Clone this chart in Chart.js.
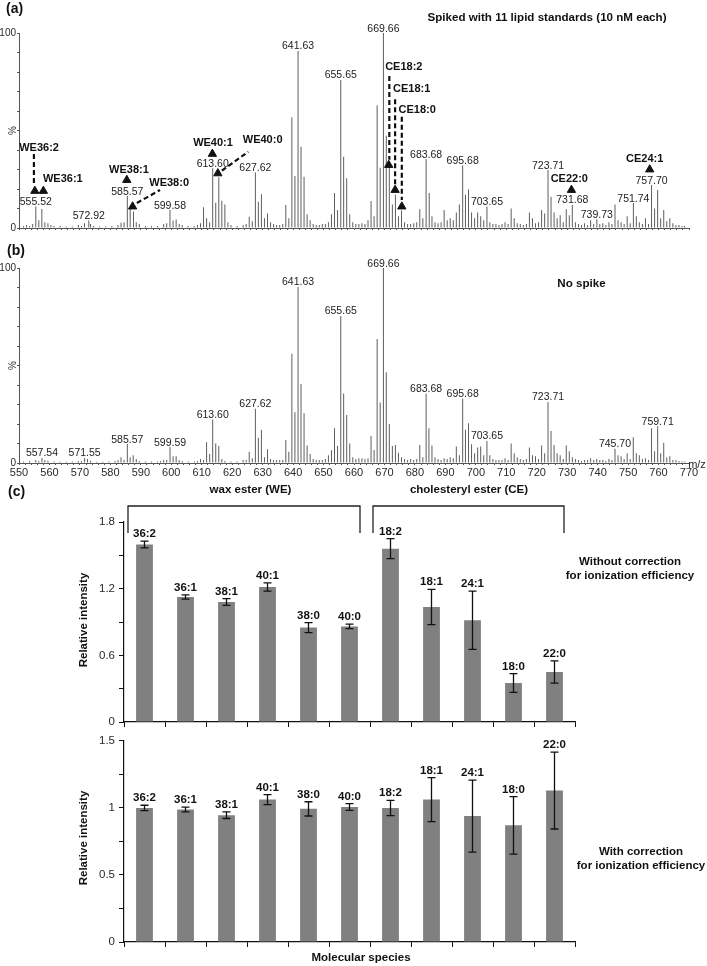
<!DOCTYPE html>
<html><head><meta charset="utf-8"><title>Lipid spectra and relative intensities</title>
<script src="https://cdn.jsdelivr.net/npm/chart.js@4.4.1/dist/chart.umd.min.js"></script>
<style>
html,body{margin:0;padding:0;background:#ffffff;}
#fig{position:relative;width:707px;height:966px;background:#fff;overflow:hidden;}
#fig canvas{position:absolute;left:0;}
</style></head><body>
<div id="fig">
<canvas id="specA" width="707" height="240" style="top:0px;width:707px;height:240px"></canvas>
<canvas id="specB" width="707" height="250" style="top:240px;width:707px;height:250px"></canvas>
<canvas id="barsU" width="707" height="256" style="top:478px;width:707px;height:256px"></canvas>
<canvas id="barsC" width="707" height="236" style="top:730px;width:707px;height:236px"></canvas>
</div>
<script>
// ------------------------- DATA -------------------------
// (a) spectrum spiked with 11 lipid standards: m/z and relative abundance (%)
const specA_mz = [551.5,552.5,553.5,554.5,555.52,556.5,557.5,558.5,559.5,560.5,561.5,563.5,565.5,567.5,569.5,570.5,571.5,572.92,573.5,574.5,576.5,578.5,580.5,582.5,583.5,584.5,585.57,586.5,587.6,588.5,589.5,591.5,593.5,595.5,597.5,598.5,599.58,600.6,601.6,602.6,603.6,605.5,607.5,608.6,609.6,610.6,611.6,612.6,613.60,614.6,615.6,616.6,617.6,618.6,619.6,621.6,623.6,624.6,625.6,626.6,627.62,628.6,629.6,630.6,631.6,632.6,633.6,634.6,635.6,636.6,637.6,638.6,639.6,640.6,641.63,642.6,643.6,644.6,645.6,646.6,647.6,648.6,649.6,650.6,651.6,652.6,653.6,654.6,655.65,656.6,657.6,658.6,659.6,660.6,661.6,662.6,663.6,664.6,665.6,666.6,667.6,668.6,669.66,670.6,671.6,672.6,673.6,674.6,675.6,676.6,677.6,678.6,679.6,680.6,681.6,682.6,683.68,684.7,685.6,686.6,687.6,688.6,689.6,690.6,691.6,692.6,693.6,694.6,695.68,696.6,697.6,698.6,699.6,700.6,701.6,702.6,703.65,704.6,705.6,706.6,707.6,708.6,709.6,710.6,711.6,712.6,713.6,714.6,715.6,716.6,717.6,718.6,719.6,720.6,721.6,722.6,723.71,724.7,725.7,726.7,727.7,728.7,729.7,730.7,731.68,732.7,733.7,734.7,735.7,736.7,737.7,738.7,739.73,740.7,741.7,742.7,743.7,744.7,745.7,746.7,747.7,748.7,749.7,750.7,751.74,752.7,753.7,754.7,755.7,756.7,757.70,758.7,759.7,760.7,761.7,762.7,763.7,764.7,765.7,766.7,767.7,768.5];
const specA_int = [1.0,1.5,1.0,2.0,11.0,4.0,9.7,3.0,2.5,1.5,1.0,1.0,0.8,0.8,1.5,1.0,2.5,3.8,2.0,1.0,0.8,0.8,1.0,1.5,2.7,3.0,16.4,11.0,8.4,3.0,2.0,1.0,1.0,1.0,2.0,2.5,9.2,3.8,4.4,2.0,1.5,1.0,1.0,1.5,2.4,10.6,5.0,3.0,30.6,13.0,26.0,14.0,12.0,3.0,1.5,1.0,1.5,2.0,5.8,3.5,28.4,13.5,17.3,5.0,7.5,3.0,2.0,1.5,1.5,2.0,11.8,5.0,56.8,26.7,90.8,41.7,26.3,7.0,4.0,2.0,1.5,1.5,2.0,2.0,3.0,7.0,18.0,9.2,75.9,36.6,25.5,7.0,3.0,2.0,2.0,2.5,2.0,4.0,13.8,6.0,63.0,30.9,100,47.3,31.0,12.0,17.0,6.0,9.0,3.0,2.0,2.0,2.5,3.0,9.6,5.0,35.2,18.0,6.0,3.0,2.5,3.0,9.2,4.0,5.0,4.0,8.0,12.0,32.0,17.0,19.8,8.0,5.0,8.0,6.0,4.0,11.0,3.0,2.0,2.0,1.5,2.0,3.0,2.0,10.0,5.0,2.5,2.0,1.5,2.0,7.9,5.0,2.5,3.0,9.2,7.5,29.7,16.0,8.0,5.0,6.5,3.0,9.6,6.5,11.8,3.0,2.0,1.5,2.5,1.5,4.0,2.0,4.5,2.0,2.5,1.5,3.0,2.0,12.0,4.0,3.0,2.0,6.0,2.5,12.8,6.0,3.0,2.0,5.0,2.0,22.0,10.0,19.5,5.0,9.2,3.5,5.0,2.5,1.5,1.5,1.0,1.0];
const specA_labels = [555.52,572.92,585.57,599.58,613.60,627.62,641.63,655.65,669.66,683.68,695.68,703.65,723.71,731.68,739.73,751.74,757.70];

// (b) spectrum without spike
const specB_mz = [551.5,553.5,555.5,556.5,557.54,558.5,559.5,561.5,563.5,565.5,567.5,569.5,570.5,571.55,572.5,573.5,575.5,577.5,579.5,581.5,582.5,583.5,584.5,585.57,586.5,587.5,588.5,589.5,591.5,593.5,595.5,596.5,597.5,598.5,599.59,600.6,601.6,602.6,603.6,605.6,607.6,608.6,609.6,610.6,611.6,612.6,613.60,614.6,615.6,616.6,617.6,619.6,621.6,623.6,624.6,625.6,626.6,627.62,628.6,629.6,630.6,631.6,632.6,633.6,634.6,635.6,636.6,637.6,638.6,639.6,640.6,641.63,642.6,643.6,644.6,645.6,646.6,647.6,648.6,649.6,650.6,651.6,652.6,653.6,654.6,655.65,656.6,657.6,658.6,659.6,660.6,661.6,662.6,663.6,664.6,665.6,666.6,667.6,668.6,669.66,670.6,671.6,672.6,673.6,674.6,675.6,676.6,677.6,678.6,679.6,680.6,681.6,682.6,683.68,684.6,685.6,686.6,687.6,688.6,689.6,690.6,691.6,692.6,693.6,694.6,695.68,696.6,697.6,698.6,699.6,700.6,701.6,702.6,703.65,704.6,705.6,706.6,707.6,708.6,709.6,710.6,711.6,712.6,713.6,714.6,715.6,716.6,717.6,718.6,719.6,720.6,721.6,722.6,723.71,724.7,725.7,726.7,727.7,728.7,729.7,730.7,731.7,732.7,733.7,734.7,735.7,736.7,737.7,738.7,739.7,740.7,741.7,742.7,743.7,744.7,745.70,746.7,747.7,748.7,749.7,750.7,751.7,752.7,753.7,754.7,755.7,756.7,757.7,758.7,759.71,760.7,761.7,762.7,763.7,764.7,765.7,766.7,767.7,768.7];
const specB_int = [0.8,1.0,1.5,1.0,2.6,1.5,1.2,0.8,0.6,0.6,0.8,1.0,1.0,2.6,2.0,1.2,0.6,0.6,0.8,1.0,1.5,3.0,1.5,9.7,3.0,4.0,2.0,1.0,0.8,0.8,0.8,1.0,1.5,1.5,8.2,3.5,3.5,1.5,1.0,0.8,0.8,1.0,2.0,1.5,10.6,4.6,22.3,10.0,8.7,2.0,1.0,0.8,0.8,1.5,1.5,5.8,2.4,27.8,13.0,17.0,3.0,7.0,2.0,1.5,1.5,1.5,1.5,11.8,5.8,56.0,26.0,90.3,40.5,25.5,9.0,4.6,2.0,1.5,1.5,1.5,2.0,4.0,6.5,17.8,8.7,75.4,35.7,24.6,10.0,3.0,2.0,2.5,2.5,2.0,2.5,13.8,6.7,63.6,31.0,100,46.5,20.0,8.7,9.2,5.3,3.0,2.0,1.5,2.0,1.5,2.0,9.2,3.0,35.5,17.8,9.0,3.0,2.0,1.5,2.5,2.0,3.0,2.5,8.4,4.0,33.0,17.0,20.4,9.6,5.0,8.0,8.5,4.0,11.3,4.0,2.0,1.5,1.5,1.5,2.5,1.5,10.0,5.0,3.0,2.0,1.5,2.0,8.0,4.0,3.5,2.0,9.0,5.0,31.3,16.4,9.2,5.0,4.0,2.0,9.0,6.0,3.0,2.0,1.5,1.0,1.5,1.5,2.5,1.5,2.0,1.5,1.5,1.0,2.0,1.5,7.3,4.0,3.5,2.0,5.0,2.0,13.2,5.0,4.0,2.0,2.5,1.5,17.8,6.0,18.8,5.0,10.4,3.0,3.5,1.5,1.5,1.0,0.8,0.8];
const specB_labels = [557.54,571.55,585.57,599.59,613.60,627.62,641.63,655.65,669.66,683.68,695.68,703.65,723.71,745.70,759.71];

// spiked standards marked in (a): name, m/z and % of marker
const stdNames = ['WE36:2','WE36:1','WE38:1','WE38:0','WE40:1','WE40:0','CE18:2','CE18:1','CE18:0','CE22:0','CE24:1'];
const stdMarkMz = [555.2,558.0,585.4,587.3,613.5,615.3,671.4,673.5,675.7,731.4,757.1];
const stdMarkPct = [19,19,24.6,11,38,28,32.3,19.5,11,19.5,30];

// (c) relative intensities
const species = ['36:2','36:1','38:1','40:1','38:0','40:0','18:2','18:1','24:1','18:0','22:0'];
const uncorrected = [1.597,1.125,1.08,1.215,0.85,0.86,1.56,1.035,0.915,0.351,0.45];
const uncorrectedErr = [0.03,0.02,0.03,0.038,0.045,0.02,0.09,0.158,0.262,0.085,0.1];
const corrected = [1.0,0.988,0.946,1.062,0.993,1.007,1.0,1.062,0.939,0.87,1.13];
const correctedErr = [0.02,0.018,0.025,0.037,0.053,0.025,0.057,0.164,0.268,0.215,0.287];

// ------------------------- LAYOUT / STYLE -------------------------
const FONT = '"Liberation Sans", Arial, Helvetica, sans-serif';
// annotation text anchors and leader lines (in m/z, % units of panel a)
const stdTextAt = [[556.6,41],[564.4,25.1],[586.1,29.7],[599.3,23.1],[613.7,43.6],[630.0,45.1],[676.35,82.7],[678.95,71.1],[680.75,60.5],[730.7,25.1],[755.45,35.2]];
const leaders = [
  [[554.9,38],[554.9,22.3]],
  [[588.7,12.8],[596.3,19.5]],
  [[616.6,29.4],[625.3,39.1]],
  [[671.6,78],[671.6,35]],
  [[673.5,66],[673.5,22]],
  [[675.7,57],[675.7,14.3]]
];

function txt(ctx, s, x, y, font, align, base, color) {
  ctx.save();
  ctx.font = font; ctx.fillStyle = color || '#1a1a1a';
  ctx.textAlign = align || 'center'; ctx.textBaseline = base || 'middle';
  ctx.fillText(s, x, y);
  ctx.restore();
}
function vtxt(ctx, s, x, y, font, color) {
  ctx.save();
  ctx.translate(x, y); ctx.rotate(-Math.PI / 2);
  ctx.font = font; ctx.fillStyle = color || '#1a1a1a';
  ctx.textAlign = 'center'; ctx.textBaseline = 'middle';
  ctx.fillText(s, 0, 0);
  ctx.restore();
}

function buildSpectrum(id, mz, inten, labels, cfg) {
  const datasets = [{
    type: 'bar', data: mz.map((x, i) => ({x: x, y: inten[i]})),
    backgroundColor: '#5e5e5e', borderWidth: 0, barThickness: 1, inflateAmount: 0, order: 3
  }];
  (cfg.datasets || []).forEach(d => datasets.push(d));
  return new Chart(document.getElementById(id), {
    type: 'bar',
    data: {datasets: datasets},
    options: {
      responsive: false, animation: false, events: [], devicePixelRatio: 1,
      layout: {padding: {left: 0, right: 18, top: cfg.padTop, bottom: 0}},
      plugins: {legend: {display: false}, tooltip: {enabled: false}},
      scales: {
        x: {
          type: 'linear', min: 550, max: 770, offset: false,
          afterBuildTicks(s) { const t = []; for (let v = 550; v <= 770; v += 2) t.push({value: v}); s.ticks = t; },
          afterFit(s) { s.height = cfg.xHeight; },
          ticks: {display: cfg.xLabels, autoSkip: false, maxRotation: 0, padding: 1, color: '#2a2a2a',
                  font: {family: FONT, size: 11}, callback: v => (v % 10 === 0 ? String(v) : '')},
          grid: {drawOnChartArea: false, offset: false, tickLength: 2, color: '#555'},
          border: {color: '#555', width: 1}
        },
        y: {
          min: 0, max: 100,
          afterBuildTicks(s) { const t = []; for (let v = 0; v <= 100; v += 10) t.push({value: v}); s.ticks = t; },
          afterFit(s) { s.width = 19; },
          ticks: {autoSkip: false, padding: 1, color: '#2a2a2a', font: {family: FONT, size: 10},
                  callback: v => ((v === 0 || v === 100) ? String(v) : '')},
          grid: {drawOnChartArea: false, tickLength: 2, color: '#555'},
          border: {color: '#555', width: 1}
        }
      }
    },
    plugins: [{
      id: 'deco_' + id,
      afterDatasetsDraw(chart) {
        const ctx = chart.ctx, xs = chart.scales.x, ys = chart.scales.y;
        labels.forEach(L => {
          const i = mz.findIndex(m => Math.abs(m - L) < 0.001);
          if (i < 0) return;
          txt(ctx, L.toFixed(2), xs.getPixelForValue(mz[i]), ys.getPixelForValue(inten[i]) - 1.5,
              '10.5px ' + FONT, 'center', 'alphabetic', '#222');
        });
        cfg.draw(chart, ctx, xs, ys);
      }
    }]
  });
}

// panel (a)
const markSet = {
  type: 'line', data: stdMarkMz.map((x, i) => ({x: x, y: stdMarkPct[i]})),
  showLine: false, pointStyle: 'triangle', pointRadius: 4.8, pointBorderWidth: 1,
  pointBackgroundColor: '#111', pointBorderColor: '#111', order: 1
};
const leaderSets = leaders.map(seg => ({
  type: 'line', data: seg.map(p => ({x: p[0], y: p[1]})),
  borderColor: '#111', borderWidth: 2.2, borderDash: [5, 3], pointRadius: 0, fill: false, order: 2
}));

buildSpectrum('specA', specA_mz, specA_int, specA_labels, {
  padTop: 33, xHeight: 12, xLabels: false,
  datasets: [markSet].concat(leaderSets),
  draw(chart, ctx, xs, ys) {
    stdNames.forEach((n, i) => {
      txt(ctx, n, xs.getPixelForValue(stdTextAt[i][0]), ys.getPixelForValue(stdTextAt[i][1]),
          'bold 11px ' + FONT, 'center', 'middle', '#111');
    });
    txt(ctx, '(a)', 6, 9, 'bold 14px ' + FONT, 'left', 'middle', '#111');
    txt(ctx, 'Spiked with 11 lipid standards (10 nM each)', 547, 18, 'bold 11.6px ' + FONT, 'center', 'middle', '#111');
    vtxt(ctx, '%', 13, 130.5, '10px ' + FONT, '#333');
  }
});

// panel (b)
buildSpectrum('specB', specB_mz, specB_int, specB_labels, {
  padTop: 28, xHeight: 27, xLabels: true,
  draw(chart, ctx) {
    txt(ctx, '(b)', 7, 11.5, 'bold 14px ' + FONT, 'left', 'middle', '#111');
    txt(ctx, 'No spike', 581.5, 43.3, 'bold 11.6px ' + FONT, 'center', 'middle', '#111');
    vtxt(ctx, '%', 13, 125.5, '10px ' + FONT, '#333');
    txt(ctx, 'm/z', 697, 225, '11px ' + FONT, 'center', 'middle', '#2a2a2a');
  }
});

// panel (c)
function buildBars(id, vals, errs, cfg) {
  return new Chart(document.getElementById(id), {
    type: 'bar',
    data: {labels: species, datasets: [{
      data: vals, backgroundColor: '#808080', borderWidth: 0, inflateAmount: 0,
      barPercentage: 0.41, categoryPercentage: 1.0
    }]},
    options: {
      responsive: false, animation: false, events: [], devicePixelRatio: 1,
      layout: {padding: {left: 0, right: 132, top: cfg.padTop, bottom: 0}},
      plugins: {legend: {display: false}, tooltip: {enabled: false}},
      scales: {
        x: {
          ticks: {display: false},
          grid: {drawOnChartArea: false, offset: true, tickLength: 5, color: '#111'},
          border: {color: '#111', width: 1.2},
          afterFit(s) { s.height = cfg.xHeight; }
        },
        y: {
          min: 0, max: cfg.max,
          afterBuildTicks(s) {
            const t = []; const n = Math.round(cfg.max / cfg.minor);
            for (let i = 0; i <= n; i++) t.push({value: Math.round(i * cfg.minor * 1000) / 1000});
            s.ticks = t;
          },
          afterFit(s) { s.width = 124; },
          ticks: {autoSkip: false, padding: 4, color: '#2a2a2a', font: {family: FONT, size: 11.5},
                  callback(v) { const k = v / cfg.major; return Math.abs(k - Math.round(k)) < 1e-6 ? String(v) : ''; }},
          grid: {drawOnChartArea: false, tickLength: 5, color: '#111'},
          border: {color: '#111', width: 1.2}
        }
      }
    },
    plugins: [{
      id: 'err_' + id,
      afterDatasetsDraw(chart) {
        const ctx = chart.ctx, ys = chart.scales.y, meta = chart.getDatasetMeta(0);
        ctx.save();
        ctx.strokeStyle = '#111'; ctx.lineWidth = 1.3;
        meta.data.forEach((bar, i) => {
          const x = bar.x;
          const yt = ys.getPixelForValue(vals[i] + errs[i]);
          const yb = ys.getPixelForValue(vals[i] - errs[i]);
          ctx.beginPath();
          ctx.moveTo(x, yt); ctx.lineTo(x, yb);
          ctx.moveTo(x - 4, yt); ctx.lineTo(x + 4, yt);
          ctx.moveTo(x - 4, yb); ctx.lineTo(x + 4, yb);
          ctx.stroke();
          txt(ctx, species[i], x, yt - 4, 'bold 11.5px ' + FONT, 'center', 'alphabetic', '#111');
        });
        ctx.restore();
        cfg.draw(chart, ctx);
      }
    }]
  });
}

buildBars('barsU', uncorrected, uncorrectedErr, {
  padTop: 44, xHeight: 12, max: 1.8, minor: 0.3, major: 0.6,
  draw(chart, ctx) {
    txt(ctx, '(c)', 8, 14, 'bold 14px ' + FONT, 'left', 'middle', '#111');
    ctx.save();
    ctx.strokeStyle = '#222'; ctx.lineWidth = 1.3;
    ctx.beginPath();
    ctx.moveTo(128, 55); ctx.lineTo(128, 28); ctx.lineTo(360, 28); ctx.lineTo(360, 55);
    ctx.moveTo(373, 55); ctx.lineTo(373, 28); ctx.lineTo(564, 28); ctx.lineTo(564, 55);
    ctx.stroke();
    ctx.restore();
    txt(ctx, 'wax ester (WE)', 250.5, 12, 'bold 11.5px ' + FONT, 'center', 'middle', '#111');
    txt(ctx, 'cholesteryl ester (CE)', 469, 12, 'bold 11.5px ' + FONT, 'center', 'middle', '#111');
    txt(ctx, 'Without correction', 630, 83.7, 'bold 11.5px ' + FONT, 'center', 'middle', '#111');
    txt(ctx, 'for ionization efficiency', 630, 97.5, 'bold 11.5px ' + FONT, 'center', 'middle', '#111');
    vtxt(ctx, 'Relative intensity', 84, 142, 'bold 11.5px ' + FONT, '#111');
  }
});

buildBars('barsC', corrected, correctedErr, {
  padTop: 9, xHeight: 24, max: 1.5, minor: 0.25, major: 0.5,
  draw(chart, ctx) {
    vtxt(ctx, 'Relative intensity', 84, 108, 'bold 11.5px ' + FONT, '#111');
    txt(ctx, 'With correction', 641, 121.7, 'bold 11.5px ' + FONT, 'center', 'middle', '#111');
    txt(ctx, 'for ionization efficiency', 641, 135.7, 'bold 11.5px ' + FONT, 'center', 'middle', '#111');
    txt(ctx, 'Molecular species', 361, 228, 'bold 11.5px ' + FONT, 'center', 'middle', '#111');
  }
});
</script>
</body></html>
